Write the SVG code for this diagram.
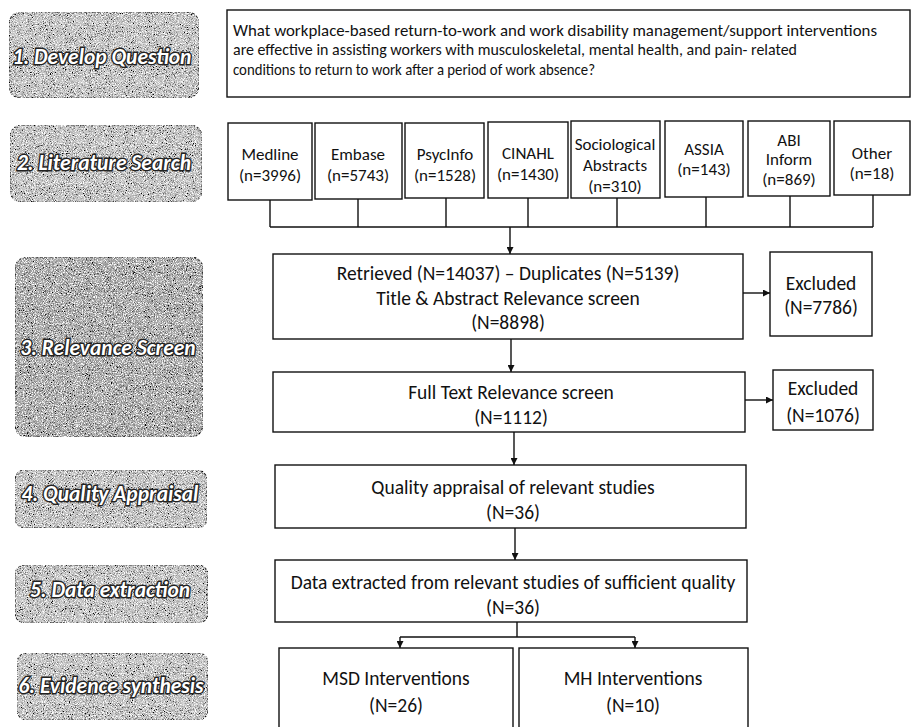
<svg xmlns="http://www.w3.org/2000/svg" width="913" height="727" viewBox="0 0 913 727">
<style>
.box{fill:#fff;stroke:#111;stroke-width:1.4}
.t{font-family:Carlito,Lato,"Liberation Sans",sans-serif;font-size:19.5px;fill:#111;text-anchor:middle}
.s{font-family:Carlito,Lato,"Liberation Sans",sans-serif;font-size:17px;fill:#111;text-anchor:middle}
.q{font-family:Carlito,Lato,"Liberation Sans",sans-serif;font-size:17px;fill:#111}
.stage{fill:#c2c2c2;stroke:#333;stroke-width:1.2;stroke-dasharray:3 1.5}
.st{font-family:Carlito,Lato,"Liberation Sans",sans-serif;font-size:21.5px;font-weight:bold;font-style:italic;fill:#fff;stroke:#222;stroke-width:2.8;paint-order:stroke;text-anchor:middle}
.ln{fill:none;stroke:#111;stroke-width:1.4}
</style>
<defs>
<filter id="noise" x="0" y="0" width="100%" height="100%">
<feTurbulence type="fractalNoise" baseFrequency="0.95" numOctaves="2" seed="7" result="t"/>
<feColorMatrix in="t" type="matrix" values="0 0 0 0 0  0 0 0 0 0  0 0 0 0 0  4 0 0 0 -1.95" result="dark"/>
<feComposite in="dark" in2="SourceAlpha" operator="in" result="d2"/>
<feTurbulence type="fractalNoise" baseFrequency="0.9" numOctaves="2" seed="21" result="t2"/>
<feColorMatrix in="t2" type="matrix" values="0 0 0 0 1  0 0 0 0 1  0 0 0 0 1  4 0 0 0 -1.9" result="light"/>
<feComposite in="light" in2="SourceAlpha" operator="in" result="l2"/>
<feMerge><feMergeNode in="SourceGraphic"/><feMergeNode in="d2"/><feMergeNode in="l2"/></feMerge>
</filter>
<marker id="ah" viewBox="0 0 10 10" refX="10" refY="5" markerWidth="7" markerHeight="7" markerUnits="userSpaceOnUse" orient="auto">
<path d="M0,0 L10,5 L0,10 z" fill="#111"/>
</marker>
</defs>

<g id="stage1"><rect class="stage" x="9" y="12" width="190" height="86" rx="12" filter="url(#noise)"/><text class="st" x="102" y="64">1. Develop Question</text></g>
<g id="stage2"><rect class="stage" x="10" y="125" width="192" height="77" rx="12" filter="url(#noise)"/><text class="st" x="104" y="170">2. Literature Search</text></g>
<g id="stage3"><rect class="stage" x="15" y="257" width="188" height="180" rx="12" filter="url(#noise)" style="fill:#a6a6a6"/><text class="st" x="108" y="355">3. Relevance Screen</text></g>
<g id="stage4"><rect class="stage" x="15" y="470" width="192" height="58" rx="10" filter="url(#noise)"/><text class="st" x="110" y="501">4. Quality Appraisal</text></g>
<g id="stage5"><rect class="stage" x="15" y="565" width="193" height="58" rx="10" filter="url(#noise)"/><text class="st" x="110" y="597">5. Data extraction</text></g>
<g id="stage6"><rect class="stage" x="17" y="653" width="191" height="67" rx="10" filter="url(#noise)"/><text class="st" x="111" y="693">6. Evidence synthesis</text></g>

<g id="question"><rect class="box" x="227" y="10" width="683" height="87"/>
<text class="q" x="233" y="36" textLength="644" lengthAdjust="spacingAndGlyphs">What workplace-based return-to-work and work disability management/support interventions</text>
<text class="q" x="233" y="55" textLength="564" lengthAdjust="spacingAndGlyphs">are effective in assisting workers with musculoskeletal, mental health, and pain- related</text>
<text class="q" x="233" y="75" textLength="362" lengthAdjust="spacingAndGlyphs">conditions to return to work after a period of work absence?</text></g>

<g id="medline"><rect class="box" x="228" y="123" width="84" height="77"/><text class="s" x="270" y="160">Medline</text><text class="s" x="270" y="181">(n=3996)</text></g>
<g id="embase"><rect class="box" x="315" y="123" width="87" height="76"/><text class="s" x="358" y="160">Embase</text><text class="s" x="358" y="181">(n=5743)</text></g>
<g id="psycinfo"><rect class="box" x="405" y="123" width="79" height="75"/><text class="s" x="445" y="160">PsycInfo</text><text class="s" x="445" y="181">(n=1528)</text></g>
<g id="cinahl"><rect class="box" x="488" y="122" width="80" height="76"/><text class="s" x="528" y="159">CINAHL</text><text class="s" x="528" y="180">(n=1430)</text></g>
<g id="sociological"><rect class="box" x="571" y="121" width="89" height="77"/><text class="s" x="615" y="150">Sociological</text><text class="s" x="615" y="171">Abstracts</text><text class="s" x="615" y="192">(n=310)</text></g>
<g id="assia"><rect class="box" x="665" y="121" width="78" height="76"/><text class="s" x="704" y="155">ASSIA</text><text class="s" x="704" y="175">(n=143)</text></g>
<g id="abi"><rect class="box" x="748" y="121" width="82" height="75"/><text class="s" x="789" y="146">ABI</text><text class="s" x="789" y="165">Inform</text><text class="s" x="789" y="185">(n=869)</text></g>
<g id="other"><rect class="box" x="834" y="121" width="76" height="74"/><text class="s" x="872" y="159">Other</text><text class="s" x="872" y="179">(n=18)</text></g>

<g id="retrieved"><rect class="box" x="273" y="254" width="470" height="85"/>
<text class="t" x="508" y="280">Retrieved (N=14037) – Duplicates (N=5139)</text>
<text class="t" x="508" y="305">Title &amp; Abstract Relevance screen</text>
<text class="t" x="508" y="329">(N=8898)</text></g>
<g id="excluded1"><rect class="box" x="770" y="252" width="102" height="84"/><text class="t" x="821" y="290">Excluded</text><text class="t" x="821" y="314">(N=7786)</text></g>

<g id="fulltext"><rect class="box" x="273" y="372" width="472" height="60"/>
<text class="t" x="511" y="399">Full Text Relevance screen</text>
<text class="t" x="511" y="424">(N=1112)</text></g>
<g id="excluded2"><rect class="box" x="773" y="370" width="100" height="60"/><text class="t" x="823" y="395">Excluded</text><text class="t" x="823" y="422">(N=1076)</text></g>

<g id="quality"><rect class="box" x="275" y="465" width="471" height="63"/>
<text class="t" x="513" y="494">Quality appraisal of relevant studies</text>
<text class="t" x="513" y="519">(N=36)</text></g>

<g id="data"><rect class="box" x="275" y="560" width="472" height="62"/>
<text class="t" x="513" y="589">Data extracted from relevant studies of sufficient quality</text>
<text class="t" x="513" y="614">(N=36)</text></g>

<g id="msd"><rect class="box" x="279" y="648" width="234" height="90"/>
<text class="t" x="396" y="685">MSD Interventions</text>
<text class="t" x="396" y="712">(N=26)</text></g>
<g id="mh"><rect class="box" x="519" y="648" width="229" height="90"/>
<text class="t" x="633" y="685">MH Interventions</text>
<text class="t" x="633" y="712">(N=10)</text></g>

<g id="connectors">
<path class="ln" d="M270,200 V227 M358,199 V227 M446,198 V227 M528,198 V227 M617,198 V227 M706,197 V227 M790,196 V227 M873,195 V227 M270,227 H873"/>
<path class="ln" d="M510,227 V254" marker-end="url(#ah)"/>
<path class="ln" d="M743,293 H770" marker-end="url(#ah)"/>
<path class="ln" d="M511,339 V372" marker-end="url(#ah)"/>
<path class="ln" d="M745,400 H773" marker-end="url(#ah)"/>
<path class="ln" d="M514,432 V465" marker-end="url(#ah)"/>
<path class="ln" d="M515,528 V560" marker-end="url(#ah)"/>
<path class="ln" d="M517,622 V637 M400,637 H635"/>
<path class="ln" d="M400,637 V648" marker-end="url(#ah)"/>
<path class="ln" d="M635,637 V648" marker-end="url(#ah)"/>
</g>
</svg>
